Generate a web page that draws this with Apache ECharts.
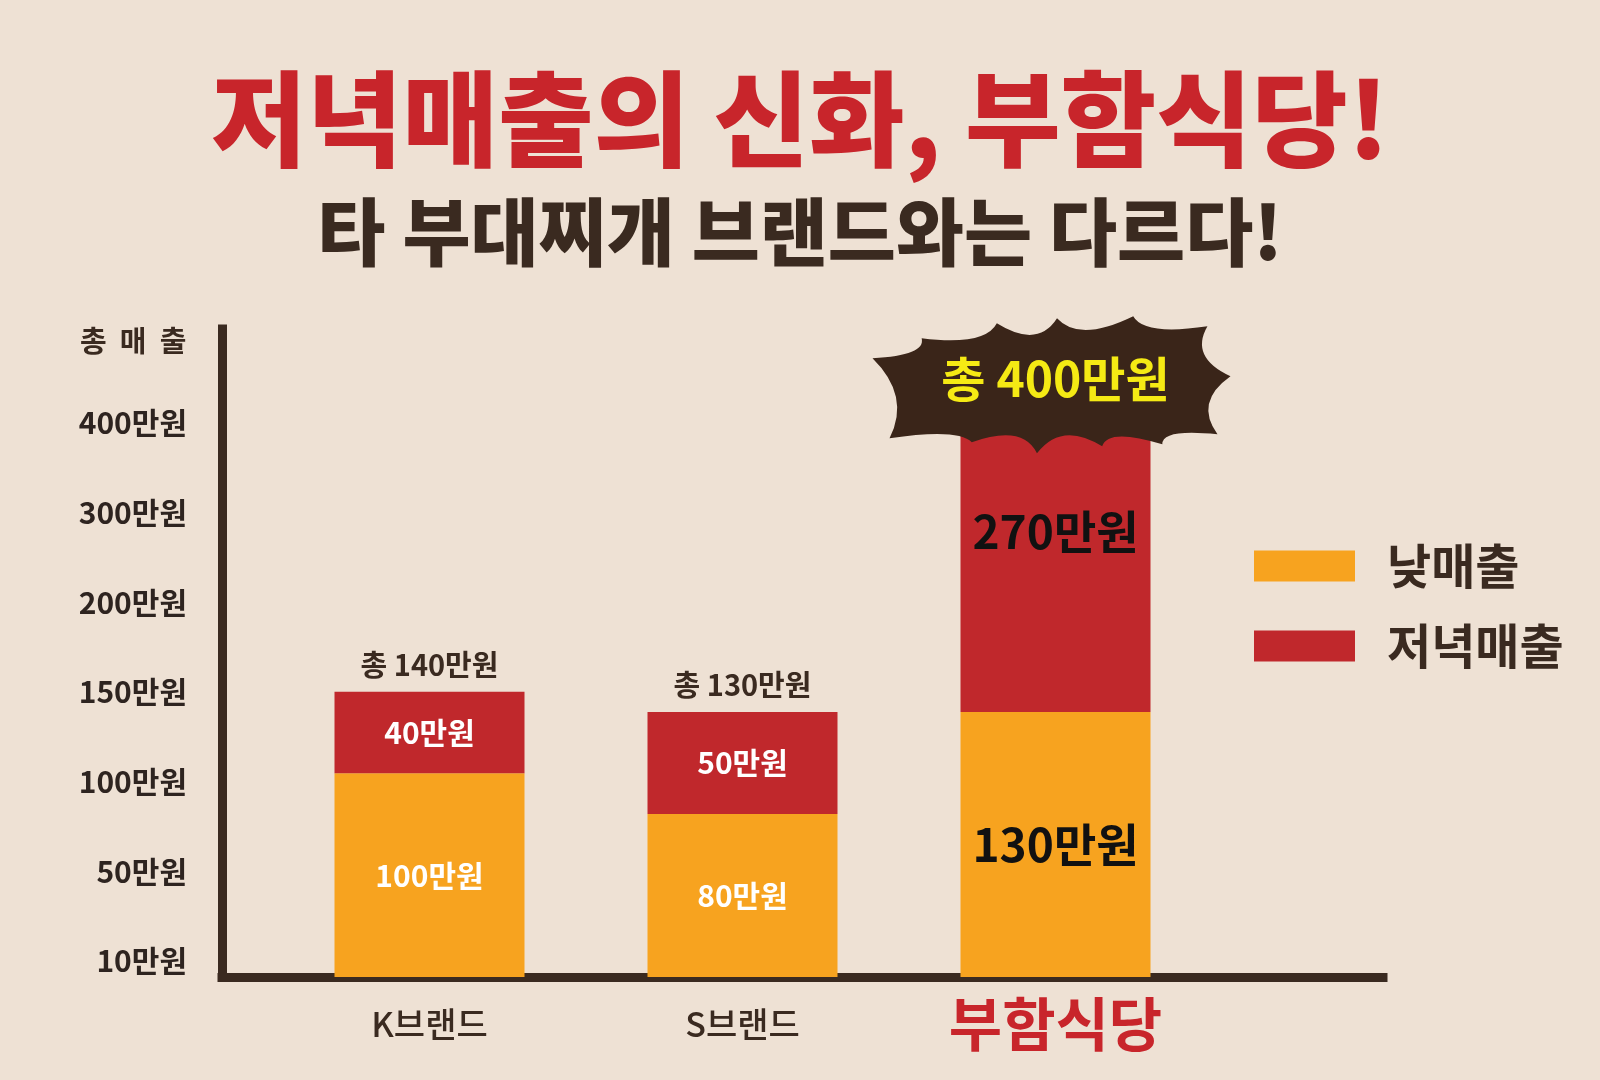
<!DOCTYPE html>
<html>
<head>
<meta charset="utf-8">
<script src="https://cdn.jsdelivr.net/npm/echarts@6/dist/echarts.min.js"></script>
<style>
html, body { margin: 0; padding: 0; background: #eee1d4; }
#main { width: 1600px; height: 1080px; }
</style>
</head>
<body>
<div id="main"></div>
<script>
const brands = ['K브랜드', 'S브랜드', '부함식당'];
const daySales = [100, 80, 130];
const dinnerSales = [40, 50, 270];
const tickLabels = ['10만원', '50만원', '100만원', '150만원', '200만원', '300만원', '400만원'];
const seriesNames = ['낮매출', '저녁매출'];

const DARK = '#3a2a20';
const ORANGE = '#f7a31f';
const RED = '#c0282c';
const FONT = '"Noto Sans CJK KR", sans-serif';
const last = brands.length - 1;

// starburst shape for the big total
function burstPath() {
    const tips = [[1, 42], [50, 22], [125, 7], [185, 2], [261, 0], [335, 10], [358, 60],
        [345, 118], [290, 128], [230, 130], [165, 137], [100, 126], [18, 122]];
    const cx = 180, cy = 70;
    let d = 'M' + tips[0].join(' ');
    for (let i = 0; i < tips.length; i++) {
        const a = tips[i], b = tips[(i + 1) % tips.length];
        const mx = (a[0] + b[0]) / 2, my = (a[1] + b[1]) / 2;
        const dx = cx - mx, dy = cy - my, len = Math.sqrt(dx * dx + dy * dy);
        d += ' Q' + (mx + dx / len * 30).toFixed(1) + ' ' + (my + dy / len * 30).toFixed(1) + ' ' + b.join(' ');
    }
    return 'path://' + d + ' Z';
}

const bigLabel = { color: '#111', fontSize: 46 };

const dayData = daySales.map((v, i) => i === last ? { value: v, label: bigLabel } : v);
const dinnerData = dinnerSales.map((v, i) => i === last
    ? { value: v, label: Object.assign({ position: 'insideTop', distance: 82 }, bigLabel) } : v);

const totalMarks = brands.map((b, i) => {
    const total = daySales[i] + dinnerSales[i];
    if (i === last) {
        return {
            coord: [b, total], value: total,
            symbol: burstPath(), symbolSize: [358, 137], symbolOffset: [-4, -42],
            itemStyle: { color: '#3a2519' },
            label: { position: 'inside', color: '#f5ea14', fontSize: 48, fontWeight: 'bold', offset: [4, -6] }
        };
    }
    return {
        coord: [b, total], value: total,
        symbol: 'rect', symbolSize: [1, 1], itemStyle: { color: 'rgba(0,0,0,0)' },
        label: { position: 'top', distance: 12, color: DARK, fontSize: 29, fontWeight: 'bold' }
    };
});

const myChart = echarts.init(document.getElementById('main'));

myChart.setOption({
    backgroundColor: '#eee1d4',
    textStyle: { fontFamily: FONT },
    animation: false,
    title: [{
        text: '저녁매출의 신화, 부함식당!',
        left: 'center', top: 62,
        textStyle: { color: '#c8252b', fontSize: 104, fontWeight: 900, fontFamily: FONT }
    }, {
        text: '타 부대찌개 브랜드와는 다르다!',
        left: 'center', top: 190,
        textStyle: { color: DARK, fontSize: 74, fontWeight: 900, fontFamily: FONT }
    }],
    legend: {
        data: seriesNames,
        orient: 'vertical',
        left: 1249, top: 536,
        icon: 'rect',
        itemWidth: 101, itemHeight: 31, itemGap: 30,
        textStyle: { color: DARK, fontSize: 48, fontWeight: 'bold', lineHeight: 50, padding: [0, 0, 0, 27] }
    },
    graphic: [{
        type: 'text', left: 80, top: 326,
        style: { text: '총  매  출', fill: DARK, font: 'bold 29px ' + FONT }
    }],
    grid: [
        { left: 273, right: 388, top: 329, bottom: 103 },   // bars
        { left: 222, right: 217, top: 329, bottom: 103 },   // axis frame
        { left: 222, width: 10, top: 423, bottom: 119 }     // tick labels
    ],
    xAxis: [{
        gridIndex: 0, type: 'category', data: brands,
        axisLine: { show: false }, axisTick: { show: false },
        axisLabel: {
            margin: 12,
            formatter: (v, i) => i === last ? '{b|' + v + '}' : '{a|' + v + '}',
            rich: {
                a: { color: DARK, fontSize: 34, fontWeight: 500, lineHeight: 70 },
                b: { color: '#c8252b', fontSize: 58, fontWeight: 'bold', lineHeight: 70 }
            }
        }
    }, {
        gridIndex: 1, type: 'value', min: 0, max: 1,
        axisLine: { show: true, lineStyle: { color: DARK, width: 9, cap: 'square' } },
        axisTick: { show: false }, axisLabel: { show: false }, splitLine: { show: false }
    }, {
        gridIndex: 2, type: 'value', show: false
    }],
    yAxis: [{
        gridIndex: 0, type: 'value', min: 0, max: 448,
        breaks: [{ start: 150, end: 400, gap: 120 }],
        breakArea: { show: false },
        axisLine: { show: false }, axisTick: { show: false },
        axisLabel: { show: false }, splitLine: { show: false }
    }, {
        gridIndex: 1, type: 'value', min: 0, max: 1,
        axisLine: { show: true, lineStyle: { color: DARK, width: 9, cap: 'square' } },
        axisTick: { show: false }, axisLabel: { show: false }, splitLine: { show: false }
    }, {
        gridIndex: 2, type: 'category', data: tickLabels, boundaryGap: false,
        axisLine: { show: false }, axisTick: { show: false },
        axisLabel: { color: '#2e2420', fontSize: 30, fontWeight: 'bold', margin: 35 }
    }],
    series: [{
        name: seriesNames[0], type: 'bar', stack: 'sales',
        xAxisIndex: 0, yAxisIndex: 0,
        barWidth: 190,
        itemStyle: { color: ORANGE },
        label: { show: true, position: 'inside', color: '#fff', fontSize: 30, fontWeight: 'bold', formatter: '{c}만원' },
        data: dayData
    }, {
        name: seriesNames[1], type: 'bar', stack: 'sales',
        xAxisIndex: 0, yAxisIndex: 0,
        barWidth: 190,
        itemStyle: { color: RED },
        label: { show: true, position: 'inside', color: '#fff', fontSize: 30, fontWeight: 'bold', formatter: '{c}만원' },
        markPoint: {
            label: { show: true, formatter: '총 {c}만원', fontFamily: FONT },
            data: totalMarks
        },
        data: dinnerData
    }]
});
</script>
</body>
</html>
